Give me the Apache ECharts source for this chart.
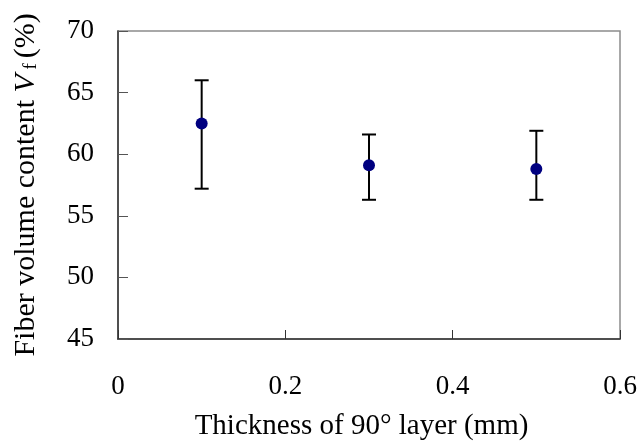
<!DOCTYPE html>
<html>
<head>
<meta charset="utf-8">
<script src="https://cdn.jsdelivr.net/npm/echarts@6/dist/echarts.min.js"></script>
<style>
  html, body { margin: 0; padding: 0; background: #fff; }
  #chart { width: 642px; height: 446px; }
</style>
</head>
<body>
<div id="chart"></div>
<script>
// thickness of 90° layer (mm) and fiber volume content (%)
const thickness = [0.1, 0.3, 0.5];
const vfMean = [62.5, 59.1, 58.8];
const vfHigh = [66.0, 61.6, 61.9];
const vfLow = [57.2, 56.3, 56.3];

const font = 'Liberation Serif, Times New Roman, serif';
const chart = echarts.init(document.getElementById('chart'));

const errData = thickness.map((x, i) => [x, vfLow[i], vfHigh[i]]);
const pointData = thickness.map((x, i) => [x, vfMean[i]]);

chart.setOption({
  animation: false,
  grid: {
    left: 118, right: 22, top: 31, bottom: 106,
    show: true, borderColor: '#8c8c8c', borderWidth: 1.5
  },
  xAxis: {
    type: 'value', min: 0, max: 0.6, interval: 0.2,
    name: 'Thickness of 90° layer (mm)',
    nameLocation: 'middle', nameGap: 73,
    nameTextStyle: { fontFamily: font, fontSize: 29, color: '#000', padding: [0, 15, 0, 0] },
    axisLine: { show: true, lineStyle: { color: '#333', width: 1.5 } },
    axisTick: { show: true, inside: true, length: 9, lineStyle: { color: '#333', width: 1 } },
    axisLabel: { margin: 34, fontFamily: font, fontSize: 27, color: '#000' },
    splitLine: { show: false }
  },
  yAxis: {
    type: 'value', min: 45, max: 70, interval: 5,
    name: '{n|Fiber volume content }{v|V}{s| f }{n|(%)}',
    nameLocation: 'middle', nameRotate: 90, nameGap: 77,
    nameTextStyle: {
      rich: {
        n: { fontFamily: font, fontSize: 30, color: '#000' },
        v: { fontFamily: font, fontSize: 30, fontStyle: 'italic', color: '#000' },
        s: { fontFamily: font, fontSize: 19, color: '#000', verticalAlign: 'bottom', padding: [9, 0, 0, 0] }
      }
    },
    axisLine: { show: true, lineStyle: { color: '#333', width: 1.5 } },
    axisTick: { show: true, inside: true, length: 10, lineStyle: { color: '#555', width: 1 } },
    axisLabel: { margin: 24, fontFamily: font, fontSize: 27, color: '#000' },
    splitLine: { show: false }
  },
  series: [
    {
      type: 'custom',
      data: errData,
      z: 2,
      renderItem: function (params, api) {
        const x = api.value(0);
        const lo = api.coord([x, api.value(1)]);
        const hi = api.coord([x, api.value(2)]);
        const hw = 7;
        const style = { stroke: '#000', lineWidth: 2 };
        return {
          type: 'group',
          children: [
            { type: 'line', shape: { x1: lo[0], y1: lo[1], x2: hi[0], y2: hi[1] }, style: style },
            { type: 'line', shape: { x1: hi[0] - hw, y1: hi[1], x2: hi[0] + hw, y2: hi[1] }, style: style },
            { type: 'line', shape: { x1: lo[0] - hw, y1: lo[1], x2: lo[0] + hw, y2: lo[1] }, style: style }
          ]
        };
      }
    },
    {
      type: 'scatter',
      data: pointData,
      symbol: 'circle',
      symbolSize: 12,
      z: 3,
      itemStyle: { color: '#000080', opacity: 1 }
    }
  ]
});
</script>
</body>
</html>
